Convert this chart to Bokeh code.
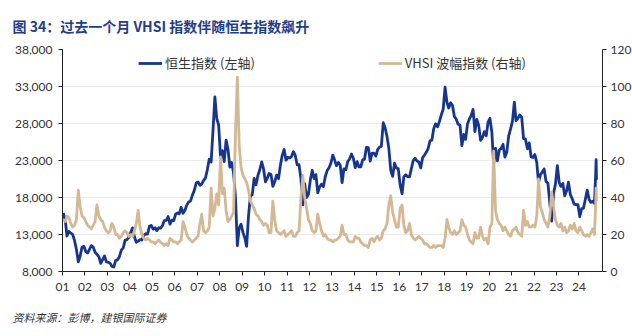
import pandas as pd
from bokeh.plotting import figure
from bokeh.models import (Range1d, LinearAxis, FixedTicker, Legend, LegendItem,
                          NumeralTickFormatter, Title)
from bokeh.embed import file_html
from bokeh.resources import INLINE

title_text = "图 34：过去一个月 VHSI 指数伴随恒生指数飙升"
source_text = "资料来源：彭博，建银国际证券"
series_names = ["恒生指数 (左轴)", "VHSI 波幅指数 (右轴)"]
left_ticks = [8000, 13000, 18000, 23000, 28000, 33000, 38000]
right_ticks = [0, 20, 40, 60, 80, 100, 120]
year_ticks = list(range(2001, 2025))
year_labels = ["01", "02", "03", "04", "05", "06", "07", "08", "09", "10", "11", "12",
               "13", "14", "15", "16", "17", "18", "19", "20", "21", "22", "23", "24"]

# Monthly readings, Jan 2001 - Aug 2024
hsi_monthly = [
    15900, 14900, 12800, 13400, 13200, 13000, 12200, 11000, 9300, 10100, 11300, 11400,   # 2001
    10700, 10500, 11000, 11500, 11300, 10600, 10300, 10000, 9100, 9600, 10100, 9300,     # 2002
    9250, 9100, 8700, 8600, 9490, 9580, 10000, 10900, 11200, 12200, 12300, 12600,       # 2003
    13300, 13900, 12700, 11950, 12100, 12300, 12250, 12850, 13100, 13050, 14100, 14230,  # 2004
    13720, 13900, 13520, 13910, 13870, 14200, 14880, 14900, 15430, 14390, 14940, 14880,  # 2005
    15750, 15920, 15800, 16660, 15860, 16270, 16970, 17390, 17540, 18320, 18960, 19960,  # 2006
    20100, 19650, 19800, 20320, 20630, 21770, 23180, 22800, 27140, 31600, 28640, 27810,  # 2007
    23450, 24330, 22850, 25750, 24530, 22100, 22730, 21260, 18020, 11500, 13890, 14390,  # 2008
    13280, 12500, 11400, 15520, 18170, 18380, 20570, 19720, 21000, 21750, 22800, 21870,  # 2009
    20120, 20610, 21240, 21110, 19500, 20130, 21030, 20540, 22360, 23700, 24500, 23040,  # 2010
    23450, 23340, 23530, 24200, 23680, 22400, 22440, 20530, 17000, 19860, 17990, 18430,  # 2011
    20390, 21680, 20560, 21090, 18630, 19440, 19800, 19480, 20840, 21640, 22030, 22660,  # 2012
    23730, 23020, 22300, 22740, 22390, 20000, 21880, 21730, 22860, 23210, 23880, 23310,  # 2013
    22040, 22840, 22150, 22130, 23080, 23190, 24760, 24740, 22930, 23990, 23990, 23600,  # 2014
    24510, 24820, 24900, 28100, 27420, 26250, 24640, 21670, 20850, 22640, 21990, 21910,  # 2015
    19680, 18500, 20780, 21070, 20820, 20790, 21890, 22980, 23300, 22930, 22790, 22000,  # 2016
    23360, 23740, 24110, 24620, 25660, 25760, 27320, 27970, 27550, 28250, 29180, 29920,  # 2017
    32900, 30840, 30090, 30810, 30470, 28960, 28580, 27890, 27790, 25000, 26510, 25850,  # 2018
    27940, 28630, 29050, 29900, 26900, 28540, 27780, 25720, 26090, 26910, 26350, 28190,  # 2019
    28700, 26800, 22500, 24640, 22960, 24430, 24600, 25180, 23460, 24110, 26340, 27230,  # 2020
    28280, 30900, 28380, 28720, 29150, 28830, 25960, 25880, 24580, 25380, 23480, 23400,  # 2021
    23800, 22710, 20000, 21090, 21420, 21860, 20160, 19950, 17220, 14800, 18600, 19780,  # 2022
    22300, 20000, 19500, 19890, 18230, 18920, 20080, 18380, 17810, 17110, 17040, 17050,  # 2023
    15400, 16510, 16540, 17760, 19000, 17720, 17340, 17500,                              # 2024
]
vhsi_monthly = [
    28, 27, 30, 29, 26, 24, 25, 28, 44, 35, 30, 29,   # 2001
    27, 25, 24, 23, 25, 27, 36, 30, 28, 27, 24, 22,   # 2002
    21, 22, 26, 24, 20, 20, 18, 19, 21, 22, 21, 19,   # 2003
    20, 19, 22, 26, 33, 24, 20, 18, 17, 18, 17, 16,   # 2004
    16, 15, 16, 17, 16, 15, 14, 15, 14, 18, 17, 16,   # 2005
    16, 15, 16, 17, 27, 24, 20, 18, 17, 16, 17, 18,   # 2006
    19, 26, 31, 22, 21, 22, 24, 45, 30, 34, 42, 36,   # 2007
    62, 42, 45, 33, 27, 28, 30, 32, 75, 105, 68, 56,  # 2008
    52, 50, 48, 44, 38, 36, 34, 31, 30, 28, 27, 25,   # 2009
    26, 25, 21, 21, 38, 28, 22, 21, 20, 21, 22, 19,   # 2010
    20, 21, 22, 19, 19, 21, 22, 40, 52, 40, 34, 28,   # 2011
    26, 22, 21, 22, 31, 26, 22, 19, 20, 18, 17, 17,   # 2012
    16, 17, 17, 18, 19, 25, 20, 20, 17, 16, 16, 16,   # 2013
    19, 18, 18, 16, 15, 14, 14, 13, 17, 18, 16, 18,   # 2014
    19, 17, 18, 22, 23, 26, 36, 41, 32, 28, 24, 24,   # 2015
    34, 36, 25, 21, 22, 26, 20, 18, 17, 18, 19, 18,   # 2016
    17, 15, 15, 14, 13, 13, 14, 13, 14, 14, 14, 13,   # 2017
    18, 28, 24, 21, 20, 22, 20, 21, 22, 28, 25, 24,   # 2018
    20, 17, 16, 15, 21, 18, 18, 24, 19, 17, 18, 15,   # 2019
    24, 26, 65, 33, 28, 26, 25, 22, 24, 22, 20, 19,   # 2020
    22, 23, 24, 21, 20, 19, 33, 25, 27, 24, 24, 25,   # 2021
    24, 30, 50, 35, 32, 28, 26, 24, 30, 43, 35, 28,   # 2022
    25, 24, 26, 22, 24, 21, 22, 25, 23, 26, 22, 21,   # 2023
    24, 22, 20, 19, 20, 19, 21, 23,                   # 2024
]
# Latest weeks
recent_dates = ["2024-09-10", "2024-09-30", "2024-10-07", "2024-10-14"]
hsi_recent = [17200, 21130, 23100, 20400]
vhsi_recent = [20, 36, 45, 38]

BLUE = "#16358F"
TAN = "#D4B894"
TXT = "#333333"
TICK_FONT = "Lato"
CJK = "Noto Sans CJK SC"

# layout (pixels)
LEFT, RIGHT, TOP, BOTTOM = 62, 30, 45, 69
FW, FH = 632 - LEFT - RIGHT, 336 - TOP - BOTTOM


def dec_year(ts):
    ts = pd.DatetimeIndex(ts)
    return list(ts.year + (ts.dayofyear - 1) / (365 + ts.is_leap_year.astype(int)))


month_dates = pd.date_range("2001-01-01", periods=len(hsi_monthly), freq="MS") + pd.Timedelta(days=14)
xs = dec_year(month_dates) + dec_year(pd.to_datetime(recent_dates))
hsi = hsi_monthly + hsi_recent
vhsi = vhsi_monthly + vhsi_recent

p = figure(frame_width=FW, frame_height=FH, title=None,
           x_range=Range1d(2001.0, 2025.05), y_range=Range1d(left_ticks[0], left_ticks[-1]),
           output_backend="svg", toolbar_location=None,
           min_border_left=LEFT, min_border_right=RIGHT, min_border_top=TOP,
           min_border_bottom=BOTTOM, outline_line_color=None)
p.extra_y_ranges = {"vhsi": Range1d(right_ticks[0], right_ticks[-1])}

p.xgrid.visible = False
p.ygrid.ticker = FixedTicker(ticks=left_ticks)
p.ygrid.grid_line_color = "#EBEBEB"

rax = LinearAxis(y_range_name="vhsi")
p.add_layout(rax, "right")

for ax in (p.xaxis[0], p.yaxis[0], rax):
    ax.axis_line_color = "#222222"
    ax.major_tick_line_color = "#222222"
    ax.major_tick_out = 4
    ax.major_tick_in = 0
    ax.minor_tick_line_color = None
    ax.major_label_text_font = TICK_FONT
    ax.major_label_text_font_size = "12px"
    ax.major_label_text_color = TXT

p.yaxis[0].ticker = FixedTicker(ticks=left_ticks)
p.yaxis[0].formatter = NumeralTickFormatter(format="0,0")
p.yaxis[0].major_label_standoff = 6
rax.ticker = FixedTicker(ticks=right_ticks)
rax.major_label_standoff = 4
p.xaxis.ticker = FixedTicker(ticks=year_ticks)
p.xaxis.major_label_overrides = {y: lab for y, lab in zip(year_ticks, year_labels)}
p.xaxis.major_label_standoff = 7

r1 = p.line(xs, hsi, line_color=BLUE, line_width=2.8, line_join="round")
r2 = p.line(xs, vhsi, y_range_name="vhsi", line_color=TAN, line_width=2.8, line_join="round")

p.add_layout(Title(text=title_text, align="left", offset=-50, text_font=CJK,
                   text_font_style="bold", text_font_size="14px", text_color="#1F3E8A",
                   standoff=27), "above")

legend = Legend(items=[LegendItem(label=series_names[0], renderers=[r1]),
                       LegendItem(label=series_names[1], renderers=[r2])],
                orientation="horizontal", location="top_center", spacing=123,
                glyph_width=24, glyph_height=14, label_standoff=3,
                label_text_font=CJK, label_text_font_size="13px", label_text_color=TXT,
                padding=0, margin=4, border_line_alpha=0, background_fill_alpha=0)
p.add_layout(legend, "center")
p.add_layout(Title(text=source_text, align="left", offset=-50, text_font=CJK,
                   text_font_style="italic", text_font_size="11px", text_color=TXT,
                   standoff=26), "below")

open("out.html", "w").write(file_html(p, INLINE))
